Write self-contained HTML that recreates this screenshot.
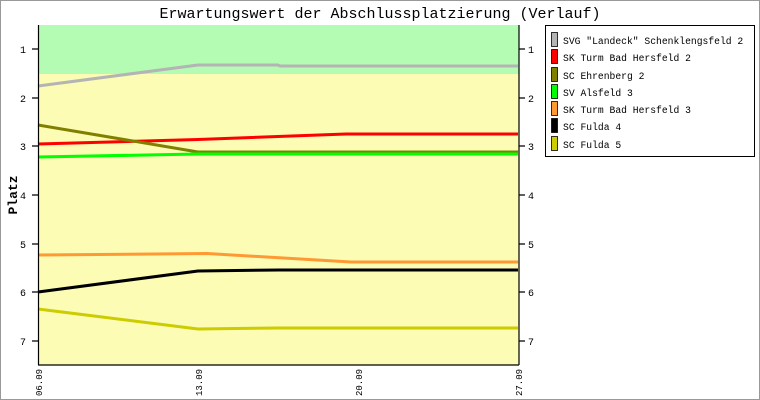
<!DOCTYPE html>
<html><head><meta charset="utf-8"><style>
html,body{margin:0;padding:0;background:#fff;}
svg{display:block;font-family:"Liberation Mono","DejaVu Sans Mono",monospace;}
</style></head><body>
<svg width="760" height="400" viewBox="0 0 760 400" xmlns="http://www.w3.org/2000/svg">
<rect x="0.5" y="0.5" width="759" height="399" fill="#fff" stroke="#999"/>
<text x="380" y="18" text-anchor="middle" font-size="15" fill="#000">Erwartungswert der Abschlussplatzierung (Verlauf)</text>
<rect x="38" y="25" width="481" height="49" fill="#b4fcb4"/>
<rect x="38" y="74" width="481" height="291" fill="#fcfcb4"/>
<g fill="none" stroke-width="3" stroke-linejoin="round">
<polyline stroke="#b4b4b4" points="38,86 198,65 278,65 280,66 518,66"/>
<polyline stroke="#ff0000" points="38,144 198,139.5 346,134 518,134"/>
<polyline stroke="#808000" points="38,125 198,152 518,152"/>
<polyline stroke="#00ff00" points="38,157 198,154 518,154"/>
<polyline stroke="#ff9933" points="38,255 207,253.5 351,262 518,262"/>
<polyline stroke="#000000" points="38,292 198,271 279,270 518,270"/>
<polyline stroke="#cccc00" points="38,309 198,329 278,328 518,328"/>
</g>
<g stroke="#000" stroke-width="1.2" fill="none">
<line x1="38.5" y1="25" x2="38.5" y2="365"/>
<line x1="519" y1="25" x2="519" y2="365"/>
<line x1="38" y1="365" x2="519" y2="365"/>
<path d="M32 49H38M32 98H38M32 146H38M32 195H38M32 244H38M32 292H38M32 341H38"/>
<path d="M519 49H525M519 98H525M519 146H525M519 195H525M519 244H525M519 292H525M519 341H525"/>
</g>
<g font-size="10" fill="#000">
<text x="26" y="53" text-anchor="end">1</text><text x="26" y="102" text-anchor="end">2</text><text x="26" y="150" text-anchor="end">3</text><text x="26" y="199" text-anchor="end">4</text><text x="26" y="248" text-anchor="end">5</text><text x="26" y="296" text-anchor="end">6</text><text x="26" y="345" text-anchor="end">7</text>
<text x="528" y="53">1</text><text x="528" y="102">2</text><text x="528" y="150">3</text><text x="528" y="199">4</text><text x="528" y="248">5</text><text x="528" y="296">6</text><text x="528" y="345">7</text>
<text transform="translate(42,396) rotate(-90)" font-size="9">06.09</text>
<text transform="translate(202,396) rotate(-90)" font-size="9">13.09</text>
<text transform="translate(362,396) rotate(-90)" font-size="9">20.09</text>
<text transform="translate(522,396) rotate(-90)" font-size="9">27.09</text>
</g>
<text transform="translate(17,195) rotate(-90)" text-anchor="middle" font-size="13" font-weight="bold">Platz</text>
<rect x="545.5" y="25.5" width="209" height="131" fill="#fff" stroke="#000"/>
<g stroke="#000" stroke-width="0.8">
<rect x="551.5" y="32.5" width="6" height="14" fill="#b4b4b4"/>
<rect x="551.5" y="49.5" width="6" height="14" fill="#ff0000"/>
<rect x="551.5" y="67.5" width="6" height="14" fill="#808000"/>
<rect x="551.5" y="84.5" width="6" height="14" fill="#00ff00"/>
<rect x="551.5" y="101.5" width="6" height="14" fill="#ff9933"/>
<rect x="551.5" y="118.5" width="6" height="14" fill="#000"/>
<rect x="551.5" y="136.5" width="6" height="14" fill="#cccc00"/>
</g>
<g font-size="9.7" fill="#000">
<text x="563" y="44">SVG "Landeck" Schenklengsfeld 2</text>
<text x="563" y="61">SK Turm Bad Hersfeld 2</text>
<text x="563" y="79">SC Ehrenberg 2</text>
<text x="563" y="96">SV Alsfeld 3</text>
<text x="563" y="113">SK Turm Bad Hersfeld 3</text>
<text x="563" y="130">SC Fulda 4</text>
<text x="563" y="148">SC Fulda 5</text>
</g>
</svg>
</body></html>
